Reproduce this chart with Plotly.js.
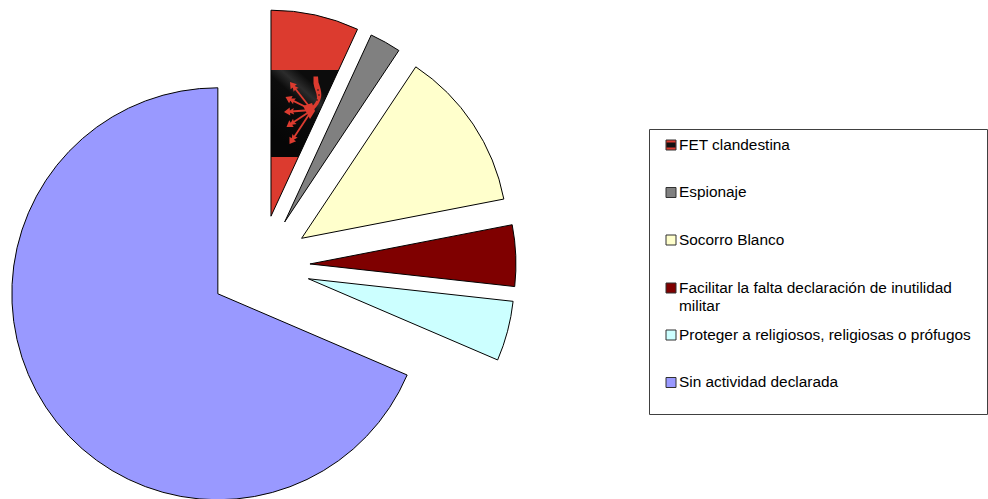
<!DOCTYPE html>
<html>
<head>
<meta charset="utf-8">
<script src="https://cdn.plot.ly/plotly-3.0.1.min.js"></script>
<style>
html,body{margin:0;padding:0;width:988px;height:499px;overflow:hidden;background:#fff}
#chart{width:988px;height:540px}
</style>
</head>
<body>
<div id="chart"></div>
<script>
const categories = ["FET clandestina","Espionaje","Socorro Blanco","Facilitar la falta declaración de inutilidad<br>militar","Proteger a religiosos, religiosas o prófugos","Sin actividad declarada"];
const shares = [6.9, 2.45, 12.6, 4.8, 4.7, 68.55];
const colors = ["#DC3B2F","#808080","#FFFFCC","#7F0000","#CCFFFF","#9999FF"];
const pulls = [0.2476, 0.2451, 0.2427, 0.2427, 0.2427, 0.2451];
const legendY = [145, 192.5, 240, 288, 335, 382.5];

const W = 988, H = 540;
const fx = x => x / W, fy = y => 1 - y / H;
const legendFont = {family:"Liberation Sans, Arial, sans-serif",size:15.4,color:"#000"};

const shapes = [{type:"rect",xref:"paper",yref:"paper",x0:fx(649.5),x1:fx(987.5),y0:fy(129.5),y1:fy(414.5),
  line:{color:"#404040",width:1},fillcolor:"#ffffff"}];
const annotations = [];
categories.forEach((c,i)=>{
  shapes.push({type:"rect",xref:"paper",yref:"paper",x0:fx(666),x1:fx(676),y0:fy(legendY[i]-5),y1:fy(legendY[i]+5),
    line:{color:"#303030",width:1},fillcolor:colors[i]});
  c.split("<br>").forEach((line,k)=>{
    annotations.push({xref:"paper",yref:"paper",x:fx(678.3),y:fy(legendY[i]-0.8+k*18),xanchor:"left",yanchor:"middle",align:"left",
      showarrow:false,text:line,borderpad:0,font:legendFont});
  });
});
shapes.push({type:"rect",xref:"paper",yref:"paper",x0:fx(666.5),x1:fx(675.5),y0:fy(142.5),y1:fy(147.5),
  line:{width:0},fillcolor:"#111111"});

const trace = {
  type:"pie", labels:categories, values:shares, sort:false, direction:"clockwise", rotation:0,
  pull:pulls, textinfo:"none", hoverinfo:"label+percent",
  marker:{colors:colors,line:{color:"#000",width:1}},
  domain:{x:[fx(3),fx(517)],y:[fy(523),fy(9)]}
};
const layout = {width:W,height:H,margin:{l:0,r:0,t:0,b:0},showlegend:false,
  paper_bgcolor:"#fff",shapes:shapes,annotations:annotations};

function arrowHeads(){
  const hub=[312,110], tips=[[290,82],[285.5,97],[284,112],[286.5,127],[289.5,144]];
  let out="";
  tips.forEach(t=>{
    const dx=t[0]-hub[0], dy=t[1]-hub[1], L=Math.hypot(dx,dy), ux=dx/L, uy=dy/L, nx=-uy, ny=ux;
    const p=(a,b)=>(t[0]-ux*a+nx*b).toFixed(1)+" "+(t[1]-uy*a+ny*b).toFixed(1);
    out+=`<path d="M${p(0,0)}L${p(6,4)}L${p(6,1.2)}L${p(10,3.2)}L${p(9,0)}L${p(10,-3.2)}L${p(6,-1.2)}L${p(6,-4)}Z"/>`;
    out+=`<path d="M${hub[0]} ${hub[1]}L${p(7,0)}" stroke="#DC3B2F" stroke-width="1.8"/>`;
  });
  return out;
}

Plotly.newPlot("chart",[trace],layout,{displayModeBar:false,staticPlot:true}).then(gd=>{
  const NS="http://www.w3.org/2000/svg";
  const slice=gd.querySelector(".pielayer .slice path.surface");
  const svg=gd.querySelector("svg.main-svg");
  const defs=svg.querySelector("defs");
  const m=slice.getScreenCTM();
  const box=gd.getBoundingClientRect();
  const dx=m.e-box.left, dy=m.f-box.top;
  const holder=document.createElementNS(NS,"g");
  holder.innerHTML=`
  <linearGradient id="sheen" gradientUnits="userSpaceOnUse" x1="271" y1="130" x2="320" y2="75">
    <stop offset="0" stop-color="#060606"/><stop offset=".55" stop-color="#0c0c0c"/>
    <stop offset=".7" stop-color="#2c2c2c"/><stop offset=".85" stop-color="#0c0c0c"/></linearGradient>
  <pattern id="flagFill" patternUnits="userSpaceOnUse" x="0" y="0" width="${W}" height="${H}"
    patternTransform="translate(${-dx},${-dy})">
    <rect x="0" y="0" width="${W}" height="${H}" fill="#DC3B2F"/>
    <rect x="260" y="70" width="120" height="87" fill="url(#sheen)"/>
    <g fill="#DC3B2F">
      ${arrowHeads()}
      <path d="M313.5 76.5l4.5 0 .5 6c2 5 3.5 11 2.5 15-1 5-4 9-8 13l-1-4c3-3 5-6 5-9 0-5-3-9-3.5-14z"/>
      <path d="M303 106l9-3 3 8-5 8z"/>
    </g>
    <g fill="#111"><circle cx="318" cy="90" r=".8"/><circle cx="319" cy="95" r=".8"/><circle cx="317" cy="100" r=".8"/></g>
  </pattern>`;
  while(holder.firstChild) defs.appendChild(holder.firstChild);
  slice.style.fill="url(#flagFill)";
  slice.style.fillOpacity=1;
});
</script>
</body>
</html>
